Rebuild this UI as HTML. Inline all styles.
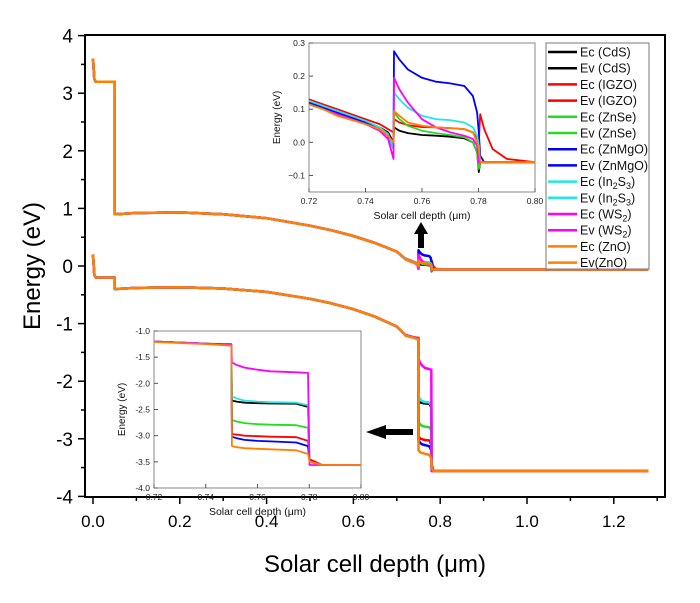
<!DOCTYPE html>
<html><head><meta charset="utf-8"><style>
body{margin:0;background:#fff;}
svg{display:block;font-family:"Liberation Sans",Arial,sans-serif;}
</style></head><body>
<svg id="c" width="700" height="603" viewBox="0 0 700 603"></svg>
<script>
// ---- data ----
const materials=["CdS","IGZO","ZnSe","ZnMgO","In2S3","WS2","ZnO"];
const colors=["#000000","#ff0000","#22dd22","#0000ff","#22e6e6","#ff00ff","#ff8000"];
const xsCommon=[0,0.003,0.006,0.0499,0.0501,0.1,0.2,0.3,0.4,0.5,0.55,0.6,0.65,0.7,0.72];
const ecCommon=[3.6,3.25,3.2,3.2,0.9,0.92,0.93,0.9,0.83,0.7,0.62,0.52,0.4,0.25,0.12];
const evCommon=[0.2,-0.15,-0.2,-0.2,-0.4,-0.38,-0.37,-0.39,-0.45,-0.57,-0.65,-0.75,-0.88,-1.05,-1.2];
const xsEc=[0.72,0.725,0.73,0.74,0.745,0.748,0.7499,0.7501,0.752,0.755,0.76,0.765,0.77,0.775,0.778,0.7795,0.7801,0.7806,0.782,0.785,0.79,0.80];
const ecCdS=[0.12,0.11,0.09,0.06,0.045,0.03,0.0,0.045,0.035,0.028,0.022,0.02,0.017,0.012,0.0,-0.03,-0.09,-0.06,-0.06,-0.06,-0.06,-0.06];
const ecIGZO=[0.13,0.115,0.10,0.07,0.055,0.04,0.03,0.07,0.06,0.052,0.046,0.045,0.043,0.04,0.03,0.01,0.0,0.085,0.04,-0.02,-0.05,-0.06];
const ecZnSe=[0.12,0.105,0.085,0.06,0.04,0.02,-0.01,0.09,0.07,0.05,0.035,0.028,0.022,0.015,0.0,-0.03,-0.08,-0.06,-0.06,-0.06,-0.06,-0.06];
const ecZnMgO=[0.12,0.105,0.09,0.06,0.04,0.02,-0.02,0.275,0.25,0.22,0.195,0.183,0.178,0.17,0.14,0.09,0.03,-0.04,-0.06,-0.06,-0.06,-0.06];
const ecIn2S3=[0.125,0.11,0.095,0.065,0.045,0.025,-0.02,0.15,0.13,0.105,0.08,0.07,0.067,0.06,0.045,0.02,-0.01,-0.06,-0.06,-0.06,-0.06,-0.06];
const ecWS2=[0.115,0.1,0.085,0.055,0.035,0.01,-0.05,0.195,0.16,0.12,0.07,0.045,0.03,0.02,0.01,-0.01,-0.06,-0.06,-0.06,-0.06,-0.06,-0.06];
const ecZnO=[0.115,0.1,0.08,0.055,0.04,0.02,0.0,0.095,0.08,0.06,0.05,0.045,0.043,0.04,0.03,0.0,-0.02,-0.06,-0.06,-0.06,-0.06,-0.06];
const xsEv=[0.72,0.74,0.7499,0.7501,0.752,0.755,0.76,0.765,0.775,0.7795,0.7801,0.785,0.80];
const evCdS=[-1.2,-1.24,-1.27,-2.33,-2.35,-2.37,-2.38,-2.385,-2.39,-2.45,-3.5,-3.56,-3.56];
const evIGZO=[-1.2,-1.24,-1.25,-2.97,-2.98,-3.0,-3.01,-3.02,-3.03,-3.1,-3.45,-3.56,-3.56];
const evZnSe=[-1.2,-1.24,-1.27,-2.7,-2.73,-2.76,-2.78,-2.79,-2.8,-2.85,-3.5,-3.56,-3.56];
const evZnMgO=[-1.2,-1.24,-1.27,-3.02,-3.05,-3.08,-3.1,-3.11,-3.13,-3.2,-3.5,-3.56,-3.56];
const evIn2S3=[-1.2,-1.24,-1.27,-2.25,-2.29,-2.33,-2.35,-2.36,-2.37,-2.42,-3.5,-3.56,-3.56];
const evWS2=[-1.2,-1.24,-1.27,-1.6,-1.65,-1.7,-1.74,-1.77,-1.79,-1.8,-3.56,-3.56,-3.56];
const evZnO=[-1.21,-1.25,-1.28,-3.2,-3.22,-3.24,-3.25,-3.26,-3.28,-3.35,-3.5,-3.56,-3.56];
const tailX=[0.80,1.28];
const tailEc=[-0.06,-0.06];
const tailEv=[-3.56,-3.56];
const xTicks=[0,0.2,0.4,0.6,0.8,1.0,1.2];
const xTickLabels=["0.0","0.2","0.4","0.6","0.8","1.0","1.2"];
const yTicks=[-4,-3,-2,-1,0,1,2,3,4];
const legendLabels=["Ec (CdS)","Ev (CdS)","Ec (IGZO)","Ev (IGZO)","Ec (ZnSe)","Ev (ZnSe)","Ec (ZnMgO)","Ev (ZnMgO)","Ec (In<tspan font-size='9' dy='3'>2</tspan><tspan dy='-3'>S</tspan><tspan font-size='9' dy='3'>3</tspan><tspan dy='-3'>)</tspan>","Ev (In<tspan font-size='9' dy='3'>2</tspan><tspan dy='-3'>S</tspan><tspan font-size='9' dy='3'>3</tspan><tspan dy='-3'>)</tspan>","Ec (WS<tspan font-size='9' dy='3'>2</tspan><tspan dy='-3'>)</tspan>","Ev (WS<tspan font-size='9' dy='3'>2</tspan><tspan dy='-3'>)</tspan>","Ec (ZnO)","Ev(ZnO)"];
const ecSets=[ecCdS,ecIGZO,ecZnSe,ecZnMgO,ecIn2S3,ecWS2,ecZnO];
const evSets=[evCdS,evIGZO,evZnSe,evZnMgO,evIn2S3,evWS2,evZnO];

// ---- helpers ----
const svg=document.getElementById('c');
const NS="http://www.w3.org/2000/svg";
function mk(tag,attrs,parent){const e=document.createElementNS(NS,tag);for(const k in attrs)e.setAttribute(k,attrs[k]);(parent||svg).appendChild(e);return e;}
const X=v=>93+v*434;
const Y=v=>266-v*57.6;
function path(xs,ys,sx,sy){return xs.map((x,i)=>(i?'L':'M')+sx(x).toFixed(1)+','+sy(ys[i]).toFixed(1)).join('');}

let f=mk('rect',{x:85,y:35,width:580,height:462,fill:'none',stroke:'#000','stroke-width':2});

const gx=mk('g',{});
for(let v=0;v<=1.3001;v+=0.1){const maj=Math.abs(Math.round(v*10)%2)===0;mk('line',{x1:X(v),x2:X(v),y1:497,y2:maj?504:501,stroke:'#000','stroke-width':1.5},gx);}
xTicks.forEach((v,i)=>{const t=mk('text',{x:X(v),y:527,'text-anchor':'middle','font-size':17},gx);t.textContent=xTickLabels[i];
});
const gy=mk('g',{});
for(let v=-4;v<=4.001;v+=0.5){const maj=Math.abs(v%1)<0.01;mk('line',{x1:maj?78:81,x2:85,y1:Y(v),y2:Y(v),stroke:'#000','stroke-width':1.5},gy);}
yTicks.forEach(v=>{const t=mk('text',{x:73,y:Y(v)+7,'text-anchor':'end','font-size':19},gy);t.textContent=v;
});
let t=mk('text',{x:375,y:572,'text-anchor':'middle','font-size':24});t.textContent='Solar cell depth (\u03bcm)';

t=mk('text',{x:0,y:0,'text-anchor':'middle','font-size':24,transform:'translate(40,266) rotate(-90)'});t.textContent='Energy (eV)';


const gm=mk('g',{fill:'none','stroke-width':2.5,'stroke-linejoin':'round'});

materials.forEach((m,i)=>{
  const ec=mk('path',{d:path(xsCommon.concat(xsEc,tailX),ecCommon.concat(ecSets[i],tailEc),X,Y),stroke:colors[i]},gm);
  
  const ev=mk('path',{d:path(xsCommon.concat(xsEv,tailX),evCommon.concat(evSets[i],tailEv),X,Y),stroke:colors[i]},gm);
  
});

function inset(name,x0,x1,y0,y1,ymin,ymax,yticks,ytl,xsD,sets){
  const g=mk('g',{});
  mk('rect',{x:x0,y:y0,width:x1-x0,height:y1-y0,fill:'#fff',stroke:'#888','stroke-width':1},g);
  const sx=v=>x0+(v-0.72)/0.08*(x1-x0);
  const sy=v=>y1-(v-ymin)/(ymax-ymin)*(y1-y0);
  const cp='cp'+name;const cl=mk('clipPath',{id:cp},g);mk('rect',{x:x0,y:y0,width:x1-x0,height:y1-y0},cl);
  const gs=mk('g',{fill:'none','stroke-width':1.8,'clip-path':'url(#'+cp+')','stroke-linejoin':'round'},g);
  sets.forEach((s,i)=>{const p=mk('path',{d:path(xsD,s,sx,sy),stroke:colors[i]},gs);
    });
  [0.72,0.74,0.76,0.78,0.80].forEach(v=>{mk('line',{x1:sx(v),x2:sx(v),y1:y1,y2:y1-4,stroke:'#555'},g);
    const tt=mk('text',{x:sx(v),y:y1+12,'text-anchor':'middle','font-size':8.5,fill:'#222'},g);tt.textContent=v.toFixed(2);});
  yticks.forEach((v,i)=>{mk('line',{x1:x0,x2:x0+4,y1:sy(v),y2:sy(v),stroke:'#555'},g);
    const tt=mk('text',{x:x0-4,y:sy(v)+3,'text-anchor':'end','font-size':8.5,fill:'#222'},g);tt.textContent=ytl[i];});
  let a=mk('text',{x:(x0+x1)/2,y:y1+27,'text-anchor':'middle','font-size':10.5,fill:'#111'},g);a.textContent='Solar cell depth (\u03bcm)';
  a=mk('text',{x:0,y:0,'text-anchor':'middle','font-size':10,fill:'#111',transform:'translate('+(x0-29)+','+((y0+y1)/2)+') rotate(-90)'},g);a.textContent='Energy (eV)';
}
inset('inset-conduction-band',309,535,43,192,-0.15,0.3,[-0.1,0,0.1,0.2,0.3],["\u22120.1","0.0","0.1","0.2","0.3"],xsEc,ecSets);
inset('inset-valence-band',154,361,331,488,-4,-1,[-4,-3.5,-3,-2.5,-2,-1.5,-1],["-4.0","-3.5","-3.0","-2.5","-2.0","-1.5","-1.0"],xsEv,evSets);

let ar=mk('polygon',{points:'418,248 424,248 424,234 428,234 421,222 414,234 418,234',fill:'#000'});

ar=mk('polygon',{points:'413,429 386,429 386,425 366,432 386,439 386,435 413,435',fill:'#000'});


const lg=mk('g',{});
mk('rect',{x:546,y:43,width:103,height:226,fill:'#fff',stroke:'#777','stroke-width':1},lg);
legendLabels.forEach((l,i)=>{const yy=52+i*16.2;const c=colors[Math.floor(i/2)];
  const e=mk('g',{},lg);
  mk('line',{x1:548,x2:577,y1:yy,y2:yy,stroke:c,'stroke-width':2.5},e);
  const tx=mk('text',{x:580,y:yy+4.5,'font-size':12.5,fill:'#111'},e);tx.innerHTML=l;});
</script>
</body></html>
